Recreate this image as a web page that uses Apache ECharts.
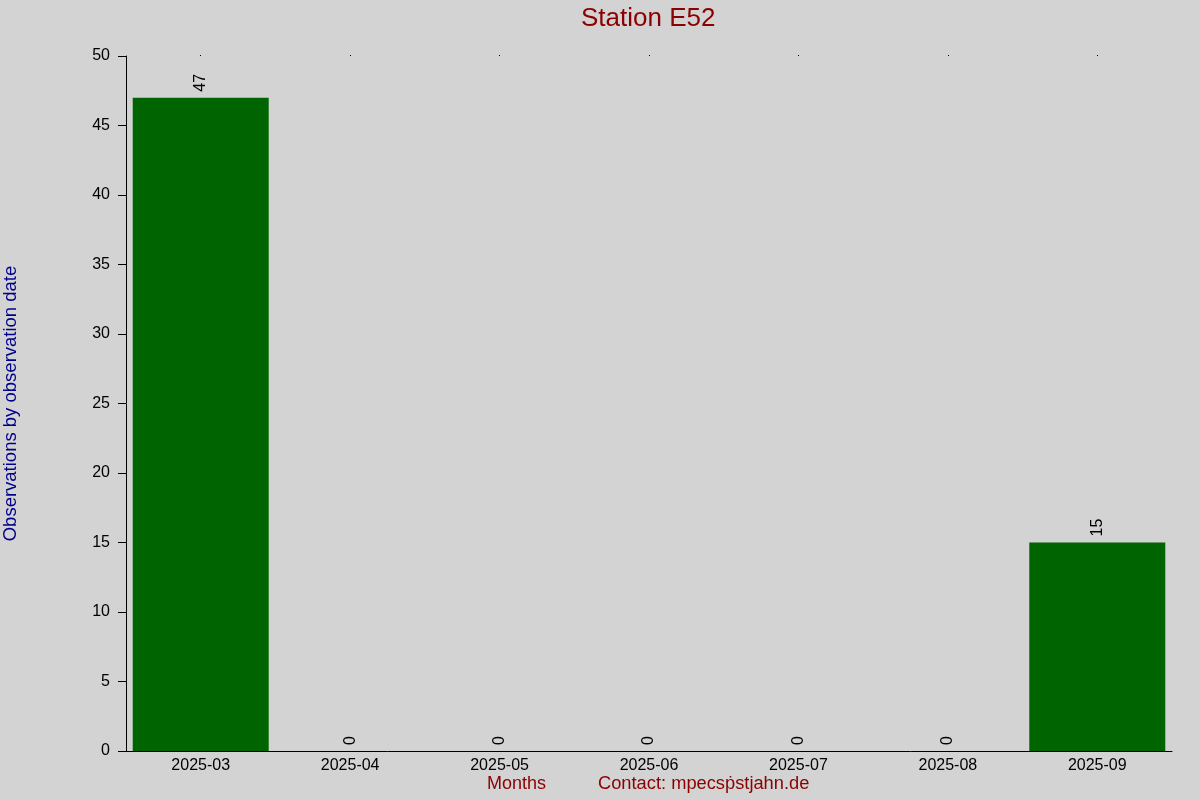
<!DOCTYPE html>
<html>
<head>
<meta charset="utf-8">
<script src="https://cdn.jsdelivr.net/npm/echarts@6/dist/echarts.min.js"></script>
<style>
  html, body { margin: 0; padding: 0; background: #d3d3d3; }
  #chart { width: 1200px; height: 800px; }
</style>
</head>
<body>
<div id="chart"></div>
<script>
// monthly counts for the station
var months = ['2025-03', '2025-04', '2025-05', '2025-06', '2025-07', '2025-08', '2025-09'];
var counts = [47, 0, 0, 0, 0, 0, 15];
var yTicks = [0, 5, 10, 15, 20, 25, 30, 35, 40, 45, 50];

var myChart = echarts.init(document.getElementById('chart'));
var font = 'Liberation Sans, Arial, sans-serif';

var option = {
    backgroundColor: '#d3d3d3',
    animation: false,
    textStyle: { fontFamily: font },
    title: {
        text: 'Station E52',
        left: 581,
        top: 6,
        padding: 0,
        textStyle: { color: '#8b0000', fontSize: 26, fontWeight: 'normal', fontFamily: font }
    },
    grid: { left: 126, right: 28, top: 56, bottom: 49, containLabel: false, outerBoundsMode: 'none' },
    xAxis: [
        {
            type: 'category',
            data: months,
            axisLine: { lineStyle: { color: '#000', width: 1 } },
            axisTick: { show: false },
            axisLabel: { color: '#000', fontSize: 16, margin: 7, fontFamily: font }
        },
        {
            type: 'category',
            data: months,
            position: 'top',
            axisLine: { show: false },
            axisTick: { show: true, alignWithLabel: true, length: 1, lineStyle: { color: '#000' } },
            axisLabel: { show: false }
        }
    ],
    yAxis: {
        type: 'value',
        min: yTicks[0],
        max: yTicks[yTicks.length - 1],
        interval: 5,
        name: 'Observations by observation date',
        nameLocation: 'middle',
        nameRotate: 90,
        nameGap: 106,
        nameTextStyle: { color: '#00008b', fontSize: 18.5, fontFamily: font },
        splitLine: { show: false },
        axisLine: { show: true, lineStyle: { color: '#000', width: 1 } },
        axisTick: { show: true, length: 8, lineStyle: { color: '#000' } },
        axisLabel: { color: '#000', fontSize: 16, margin: 16, fontFamily: font }
    },
    series: [{
        type: 'bar',
        data: counts,
        barCategoryGap: '9%',
        itemStyle: { color: '#006400' },
        label: {
            show: true,
            position: 'top',
            rotate: 90,
            align: 'left',
            verticalAlign: 'middle',
            distance: 6,
            color: '#000',
            fontSize: 16,
            fontFamily: font
        }
    }],
    graphic: [
        {
            type: 'text',
            left: 487,
            top: 775,
            style: { text: 'Months', fill: '#8b0000', fontSize: 18, fontFamily: font }
        },
        {
            type: 'text',
            left: 598,
            top: 775,
            style: { text: 'Contact: mpecsṗstjahn.de', fill: '#8b0000', fontSize: 18.3, fontFamily: font }
        }
    ]
};
myChart.setOption(option);
</script>
</body>
</html>
